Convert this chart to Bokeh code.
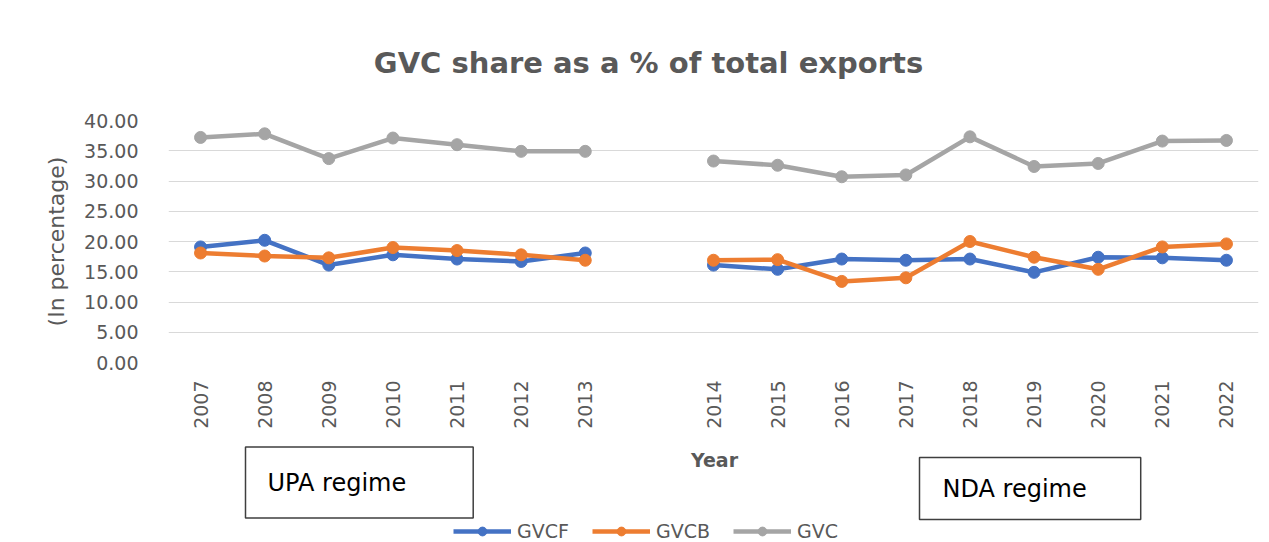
import math
from bokeh.plotting import figure
from bokeh.layouts import column
from bokeh.models import (FactorRange, Range1d, FixedTicker, NumeralTickFormatter,
                          Legend, LegendItem, Label)
from bokeh.embed import file_html
from bokeh.resources import INLINE

# ---------------- data ----------------
years_upa = ["2007", "2008", "2009", "2010", "2011", "2012", "2013"]
years_nda = ["2014", "2015", "2016", "2017", "2018", "2019", "2020", "2021", "2022"]
gap = " "

gvcf_upa = [19.1, 20.2, 16.1, 17.8, 17.1, 16.7, 18.1]
gvcf_nda = [16.1, 15.4, 17.1, 16.9, 17.1, 14.9, 17.4, 17.3, 16.9]

gvcb_upa = [18.1, 17.6, 17.3, 19.0, 18.5, 17.8, 16.9]
gvcb_nda = [16.9, 17.0, 13.4, 14.0, 20.0, 17.4, 15.4, 19.1, 19.6]

gvc_upa = [37.2, 37.8, 33.7, 37.1, 36.0, 34.9, 34.9]
gvc_nda = [33.3, 32.6, 30.7, 31.0, 37.3, 32.4, 32.9, 36.6, 36.7]

y_ticks = [0, 5, 10, 15, 20, 25, 30, 35, 40]

series = [
    ("GVCF", gvcf_upa, gvcf_nda, "#4472C4"),
    ("GVCB", gvcb_upa, gvcb_nda, "#ED7D31"),
    ("GVC", gvc_upa, gvc_nda, "#A5A5A5"),
]

TXT = "#595959"
FONT = "DejaVu Sans"
W = 1269
LEFT, RIGHT = 168, 11   # frame margins shared by all stacked figures


def strip(height):
    # helper figure whose data coordinates equal page pixels (x) / strip pixels from top (y)
    f = figure(width=W, height=height, x_range=Range1d(LEFT, W - RIGHT),
               y_range=Range1d(height, 0),
               x_axis_type=None, y_axis_type=None, output_backend="svg",
               toolbar_location=None, min_border_left=LEFT, min_border_right=RIGHT,
               min_border_top=0, min_border_bottom=0)
    f.outline_line_color = None
    f.grid.visible = False
    f.background_fill_color = "white"
    f.border_fill_color = "white"
    return f


# ---------------- title strip ----------------
t = strip(100)
t.add_layout(Label(x=648, y=62, text="GVC share as a % of total exports",
                   text_align="center", text_baseline="middle", text_font=FONT,
                   text_font_size="29px", text_font_style="bold", text_color=TXT))

# ---------------- main chart ----------------
factors = years_upa + [gap] + years_nda

p = figure(width=W, height=340,
           x_range=FactorRange(factors=factors, range_padding=0),
           y_range=Range1d(0, 40),
           output_backend="svg", toolbar_location=None,
           min_border_left=LEFT, min_border_right=RIGHT,
           min_border_top=20, min_border_bottom=78)

p.outline_line_color = None
p.background_fill_color = "white"
p.border_fill_color = "white"
p.xgrid.grid_line_color = None
p.ygrid.grid_line_color = "#D9D9D9"
p.ygrid.grid_line_width = 1.2

p.yaxis.ticker = FixedTicker(ticks=y_ticks)
p.yaxis.formatter = NumeralTickFormatter(format="0.00")
for ax in (p.xaxis, p.yaxis):
    ax.axis_line_color = None
    ax.major_tick_line_color = None
    ax.minor_tick_line_color = None
    ax.major_label_text_color = TXT
    ax.major_label_text_font = FONT
    ax.axis_label_text_color = TXT
    ax.axis_label_text_font = FONT

p.yaxis.major_label_text_font_size = "19px"
p.yaxis.major_label_standoff = 24
p.yaxis.axis_label = "(In percentage)"
p.yaxis.axis_label_text_font_size = "22px"
p.yaxis.axis_label_text_font_style = "normal"
p.yaxis.axis_label_standoff = 12

p.xaxis.major_label_text_font_size = "19px"
p.xaxis.major_label_orientation = math.pi / 2
p.xaxis.major_label_standoff = 12

for name, upa, nda, col in series:
    for xs, ys in ((years_upa, upa), (years_nda, nda)):
        p.line(xs, ys, line_color=col, line_width=4.5)
        p.scatter(xs, ys, size=12, fill_color=col, line_color=col)

# ---------------- bottom strip: axis title, regime boxes, legend ----------------
b = strip(102)
b.add_layout(Label(x=714, y=19, text="Year", text_align="center", text_baseline="middle",
                   text_font=FONT, text_font_size="19px", text_font_style="bold",
                   text_color=TXT))

b.add_layout(Label(x=245, y=42, text="UPA regime",
                   text_align="left", text_baseline="middle", text_font=FONT,
                   text_font_size="24px", text_color="black",
                   border_line_color="#3F3F3F", border_line_width=1.5,
                   background_fill_color="white",
                   padding=dict(left=22, right=67, top=22, bottom=21)))

b.add_layout(Label(x=919, y=48, text="NDA regime",
                   text_align="left", text_baseline="middle", text_font=FONT,
                   text_font_size="24px", text_color="black",
                   border_line_color="#3F3F3F", border_line_width=1.5,
                   background_fill_color="white",
                   padding=dict(left=23, right=54, top=17, bottom=17)))

nan = float("nan")
items = []
for name, upa, nda, col in series:
    # legend-only renderers (nothing drawn in the strip itself)
    lr = b.line([nan], [nan], line_color=col, line_width=4.5)
    sr = b.scatter([nan], [nan], size=13, fill_color=col, line_color=col)
    items.append(LegendItem(label=name, renderers=[lr, sr]))

legend = Legend(items=items, orientation="horizontal", location=(453 - LEFT, 0),
                padding=0, margin=0, spacing=23, glyph_width=58, glyph_height=22,
                label_standoff=6, label_text_font_size="19px", label_text_color=TXT,
                label_text_font=FONT, background_fill_alpha=0, border_line_color=None)
b.add_layout(legend)

layout = column(t, p, b, spacing=0)
open("out.html", "w").write(file_html(layout, INLINE))
